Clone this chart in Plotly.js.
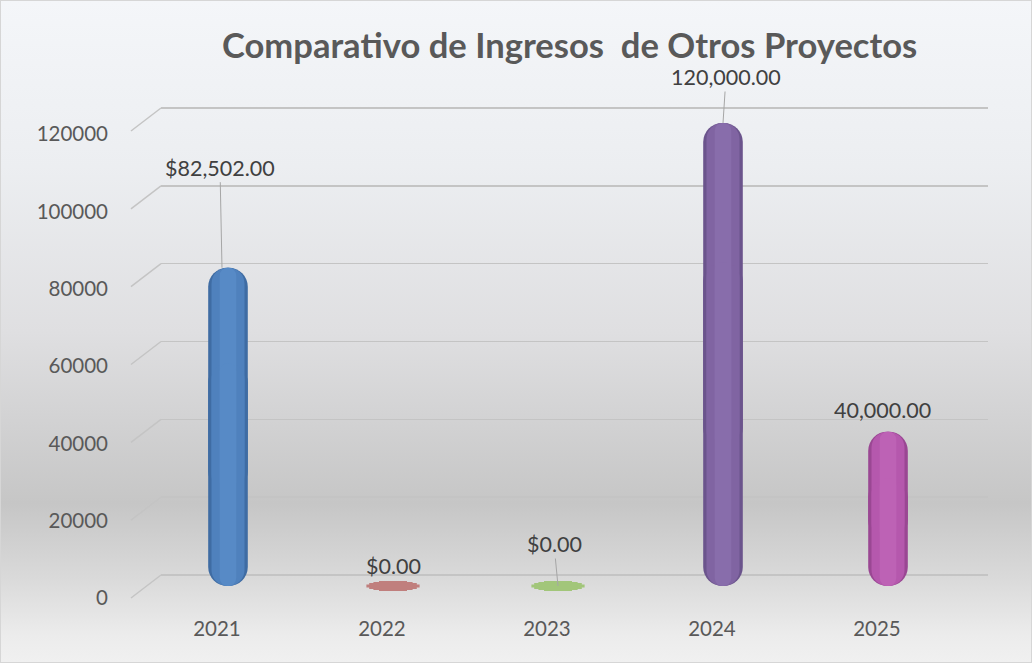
<!DOCTYPE html>
<html>
<head>
<meta charset="utf-8">
<script src="https://cdn.plot.ly/plotly-3.0.1.min.js"></script>
<style>
html,body{margin:0;padding:0;background:#ffffff;}
#chart{width:1032px;height:663px;box-sizing:border-box;border:1px solid #d6d6d6;
background:linear-gradient(to bottom,#f4f6f9 0%,#eceef1 25%,#dfdfe1 50%,#c6c6c6 76%,#d9d9d9 87%,#ececec 96%,#f0f0f0 100%);}
</style>
</head>
<body>
<div id="chart"></div>
<script>
// ---- data ----
const years = ["2021", "2022", "2023", "2024", "2025"];
const values = [82502, 0, 0, 120000, 40000];
const labels = ["$82,502.00", "$0.00", "$0.00", "120,000.00", "40,000.00"];
const yTicks = [0, 20000, 40000, 60000, 80000, 100000, 120000];
const titleText = "Comparativo de Ingresos  de Otros Proyectos";

// ---- style ----
const baseColors = ["#4f81bd", "#c0504d", "#9bbb59", "#8064a2", "#b558ad"];
const darkColors = ["#3f6ca3", "#a8615f", "#86ab5e", "#6b548c", "#9a4793"];
const lightColors = ["#578ac6", "#c8625f", "#a5c467", "#886dab", "#bd62b5"];
const discColors = ["#4f81bd", "#c07f7d", "#a2c67a", "#8064a2", "#b558ad"];
const idx = years.map((_, i) => i);
const zeroIdx = idx.filter(i => values[i] === 0);
const zeroColors = zeroIdx.map(i => discColors[i]);
const FONT = "Lato, 'Noto Sans', sans-serif";

function disc(size, width) {
  return {type: "scatter", mode: "markers", x: zeroIdx, y: zeroIdx.map(i => values[i]), xaxis: "x", yaxis: "y",
    marker: {symbol: "line-ew", size: size, color: zeroColors, line: {color: zeroColors, width: width}},
    hoverinfo: "skip", showlegend: false};
}

// each cylinder layer is drawn as two overlapping pieces: an upward one
// (rounded at the top) and a downward one (rounded at the bottom)
function cylLayer(width, colors, radius) {
  const common = {type: "bar", x: idx, width: width, xaxis: "x", yaxis: "y",
    marker: {color: colors, cornerradius: radius, line: {width: 0}},
    hoverinfo: "skip", showlegend: false};
  return [
    Object.assign({}, common, {base: values.map(v => v * 0.3), y: values.map(v => v * 0.7)}),
    Object.assign({}, common, {base: values.map(v => v * 0.7), y: values.map(v => -v * 0.7)})
  ];
}

const traces = [
  disc(38, 3), disc(34, 6), disc(28, 8), disc(20, 10),
  ...cylLayer(0.24, darkColors, 20),
  ...cylLayer(0.2, baseColors, 17),
  ...cylLayer(0.1, lightColors, 8),
  // invisible anchors so the label axes and back-wall grid axis are drawn
  {type: "scatter", mode: "markers", x: idx, y: values, xaxis: "x2", yaxis: "y2",
   marker: {opacity: 0}, hoverinfo: "skip", showlegend: false},
  {type: "scatter", mode: "markers", x: idx, y: values, xaxis: "x", yaxis: "y3",
   marker: {opacity: 0}, hoverinfo: "skip", showlegend: false}
];

// diagonal side-wall tick lines
const shapes = yTicks.map(v => ({
  type: "line", xref: "paper", x0: -0.0363, x1: 0,
  yref: "y3", ysizemode: "pixel", yanchor: v, y0: -23, y1: 0,
  line: {color: "#c4c4c4", width: 1.5}, layer: "below"
}));

const annotations = [
  {x: 0, y: values[0], text: labels[0], showarrow: true, arrowhead: 0, arrowwidth: 1, arrowcolor: "#a6a6a6", ax: -2, ay: -100, xshift: -6},
  {x: 1, y: values[1], text: labels[1], showarrow: false, yshift: 20},
  {x: 2, y: values[2], text: labels[2], showarrow: true, arrowhead: 0, arrowwidth: 1, arrowcolor: "#a6a6a6", ax: -4, ay: -42},
  {x: 3, y: values[3], text: labels[3], showarrow: true, arrowhead: 0, arrowwidth: 1, arrowcolor: "#a6a6a6", ax: 3, ay: -46},
  {x: 4, y: values[4], text: labels[4], showarrow: false, yshift: 22, xshift: -6}
].map(a => Object.assign({xref: "x", yref: "y", font: {family: FONT, size: 21.5, color: "#404040"}}, a));

const layout = {
  width: 1032, height: 663,
  paper_bgcolor: "rgba(0,0,0,0)", plot_bgcolor: "rgba(0,0,0,0)",
  margin: {l: 160, r: 45, t: 60, b: 53},
  barmode: "overlay",
  showlegend: false,
  title: {text: "<b>" + titleText + "</b>", x: 0.551, xanchor: "center", y: 0.932, yanchor: "middle",
          font: {family: FONT, size: 34.6, color: "#595959"}},
  xaxis: {range: [-0.406, 4.606], visible: false, fixedrange: true},
  xaxis2: {overlaying: "x", range: [-0.339, 4.673], tickvals: idx, ticktext: years, side: "bottom",
           showgrid: false, zeroline: false, showline: false, ticks: "", ticklabelstandoff: 3,
           tickfont: {family: FONT, size: 20.5, color: "#595959"}, fixedrange: true},
  yaxis: {range: [-6479.5, 136069], visible: false, fixedrange: true},
  yaxis2: {overlaying: "y", anchor: "x", side: "left", range: [-3362, 138879], tickvals: yTicks,
           tickformat: "d",
           showgrid: false, zeroline: false, showline: false, ticks: "", ticklabelstandoff: 52,
           tickfont: {family: FONT, size: 20.5, color: "#595959"}, fixedrange: true},
  yaxis3: {overlaying: "y", anchor: "x", side: "left", range: [-9251, 132077], tickvals: yTicks,
           showgrid: true, gridcolor: "#c4c4c4", gridwidth: 1.5, zeroline: false, showline: false,
           showticklabels: false, ticks: "", fixedrange: true},
  shapes: shapes,
  annotations: annotations,
  hovermode: false
};

Plotly.newPlot("chart", traces, layout, {displayModeBar: false, staticPlot: true});
</script>
</body>
</html>
